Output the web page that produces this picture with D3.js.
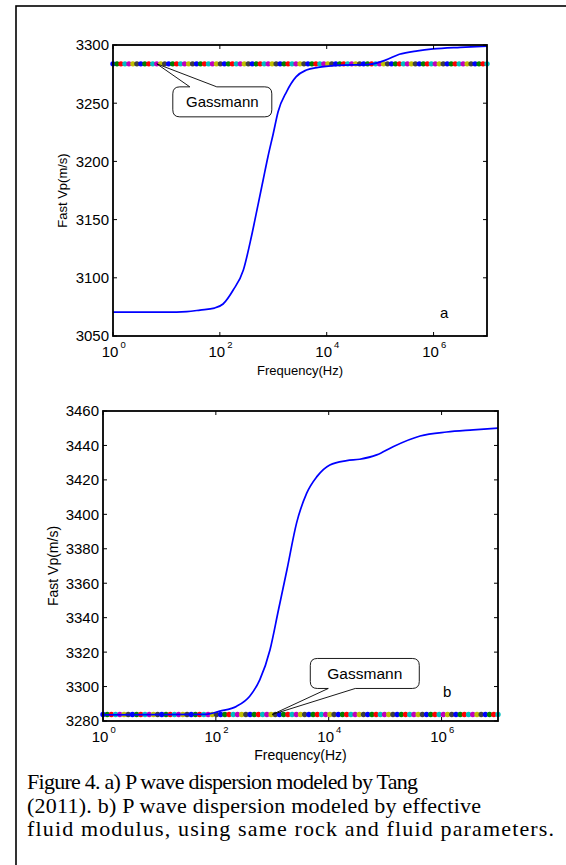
<!DOCTYPE html>
<html><head><meta charset="utf-8">
<script src="https://cdn.jsdelivr.net/npm/d3@7"></script>
<style>html,body{margin:0;padding:0;background:#fff;}svg{display:block;}</style>
</head><body>
<script>
// ---- data ----
const logFreqA = [0, 1.0, 1.38, 1.63, 1.9, 2.06, 2.25, 2.44, 2.59, 2.72, 2.81, 2.90, 3.00, 3.09, 3.25, 3.43, 3.62, 3.84, 4.2, 4.8, 5.1, 5.36, 5.7, 5.99, 6.5, 7.0];
const velA     = [3070.5, 3070.5, 3071, 3072.3, 3074, 3077.5, 3089.5, 3106.7, 3135.3, 3164, 3184, 3204, 3224, 3242.7, 3260, 3272.8, 3278.5, 3280.8, 3282.5, 3283.4, 3287, 3292, 3295, 3296.6, 3298, 3299];
const logFreqB = [0, 1.8, 2.07, 2.37, 2.60, 2.78, 2.96, 3.11, 3.26, 3.43, 3.61, 3.79, 4.02, 4.32, 4.55, 4.85, 5.14, 5.62, 6.09, 6.56, 7.0];
const velB     = [3283.5, 3283.8, 3285.7, 3288.6, 3294.4, 3304, 3321.4, 3344.6, 3367.8, 3394.9, 3412.3, 3421.9, 3428.7, 3431.2, 3432, 3434.5, 3439.3, 3445.5, 3447.8, 3449, 3450];
const gassmannVel = 3283.8;
const gassmannMarkerCount = 95;
const xTickExps = [0, 2, 4, 6];
const yTicksA = [3050, 3100, 3150, 3200, 3250, 3300];
const yTicksB = [3280, 3300, 3320, 3340, 3360, 3380, 3400, 3420, 3440, 3460];
const markerColors = ["#0000ff", "#008000", "#ff0000", "#00bfbf", "#bf00bf", "#bfbf00", "#404040"];
const captionLines = [
  "Figure 4. a) P wave dispersion modeled by Tang",
  "(2011). b) P wave dispersion modeled by effective",
  "fluid modulus, using same rock and fluid parameters."
];
const captionWidths = [391, 454, 527];

const W = 566, H = 865;
const svg = d3.select("body").append("svg").attr("width", W).attr("height", H);
const SANS = "'Liberation Sans', Arial, sans-serif";

// outer frame
svg.append("rect").attr("x", 16).attr("y", 6).attr("width", W + 10).attr("height", H + 10)
  .attr("fill", "none").attr("stroke", "#000").attr("stroke-width", 1.6);

function panel(cfg) {
  const g = svg.append("g");
  const x = d3.scaleLog().domain([1, 1e7]).range([cfg.left, cfg.right]);
  const y = d3.scaleLinear().domain(cfg.yDomain).range([cfg.bottom, cfg.top]);
  const tl = 4;

  // Gassmann markers
  const gl = d3.range(gassmannMarkerCount).map(i => Math.pow(10, 7 * i / (gassmannMarkerCount - 1)));
  g.append("g").selectAll("circle").data(gl).join("circle")
    .attr("cx", d => x(d)).attr("cy", y(gassmannVel)).attr("r", 2.7)
    .attr("fill", (d, i) => markerColors[i % markerColors.length]);

  // curve
  const line = d3.line().x(d => x(Math.pow(10, d[0]))).y(d => y(d[1])).curve(d3.curveMonotoneX);
  g.append("path").datum(cfg.lf.map((f, i) => [f, cfg.v[i]]))
    .attr("d", line).attr("fill", "none").attr("stroke", "#0000ff").attr("stroke-width", 1.7);

  // box
  g.append("rect").attr("x", cfg.left).attr("y", cfg.top)
    .attr("width", cfg.right - cfg.left).attr("height", cfg.bottom - cfg.top)
    .attr("fill", "none").attr("stroke", "#000").attr("stroke-width", 1.8);

  // x ticks
  xTickExps.forEach(e => {
    const px = x(Math.pow(10, e));
    g.append("line").attr("x1", px).attr("x2", px).attr("y1", cfg.bottom).attr("y2", cfg.bottom - tl).attr("stroke", "#000");
    g.append("line").attr("x1", px).attr("x2", px).attr("y1", cfg.top).attr("y2", cfg.top + tl).attr("stroke", "#000");
    g.append("text").attr("x", px - 3).attr("y", cfg.bottom + 21)
      .attr("text-anchor", "middle").attr("font-family", SANS).attr("font-size", cfg.tickFs).text("10");
    g.append("text").attr("x", px + cfg.tickFs * 0.56 - 1).attr("y", cfg.bottom + 12)
      .attr("text-anchor", "start").attr("font-family", SANS).attr("font-size", 9.5).text(e);
  });
  // y ticks
  cfg.yTicks.forEach(v => {
    const py = y(v);
    g.append("line").attr("x1", cfg.left).attr("x2", cfg.left + tl).attr("y1", py).attr("y2", py).attr("stroke", "#000");
    g.append("line").attr("x1", cfg.right).attr("x2", cfg.right - tl).attr("y1", py).attr("y2", py).attr("stroke", "#000");
    g.append("text").attr("x", cfg.left - 4).attr("y", py).attr("dy", "0.36em")
      .attr("text-anchor", "end").attr("font-family", SANS).attr("font-size", cfg.tickFs).text(v);
  });
  // axis labels
  g.append("text").attr("x", (cfg.left + cfg.right) / 2).attr("y", cfg.bottom + 39)
    .attr("text-anchor", "middle").attr("font-family", SANS).attr("font-size", cfg.labFs).text("Frequency(Hz)");
  g.append("text").attr("transform", `translate(${cfg.ylabX},${(cfg.top + cfg.bottom) / 2}) rotate(-90)`)
    .attr("text-anchor", "middle").attr("font-family", SANS).attr("font-size", cfg.labFs).text("Fast Vp(m/s)");
  // panel letter
  g.append("text").attr("x", x(Math.pow(10, cfg.letterPos[0]))).attr("y", y(cfg.letterPos[1])).attr("dy", "0.36em")
    .attr("text-anchor", "middle").attr("font-family", SANS).attr("font-size", 15).text(cfg.letter);

  // callout
  const ax = x(Math.pow(10, cfg.callout.logf)), ay = y(gassmannVel);
  const c = cfg.callout;
  const x0 = ax + c.box[0], x1 = ax + c.box[1], y0 = ay + c.box[2], y1 = ay + c.box[3];
  const p0 = ax + c.base[0], p1 = ax + c.base[1];
  const r = 7;
  let d = `M${x0 + r},${y0}`;
  if (c.side === "top") d += `L${p0},${y0}L${ax},${ay}L${p1},${y0}`;
  d += `L${x1 - r},${y0}Q${x1},${y0} ${x1},${y0 + r}L${x1},${y1 - r}Q${x1},${y1} ${x1 - r},${y1}`;
  if (c.side === "bottom") d += `L${p1},${y1}L${ax},${ay}L${p0},${y1}`;
  d += `L${x0 + r},${y1}Q${x0},${y1} ${x0},${y1 - r}L${x0},${y0 + r}Q${x0},${y0} ${x0 + r},${y0}Z`;
  g.append("path").attr("d", d).attr("fill", "#fff").attr("stroke", "#000").attr("stroke-width", 0.9);
  g.append("text").attr("x", (x0 + x1) / 2).attr("y", (y0 + y1) / 2).attr("dy", "0.36em")
    .attr("text-anchor", "middle").attr("font-family", SANS).attr("font-size", c.fs).text("Gassmann");
}

panel({left: 113, right: 487, top: 45, bottom: 336, yDomain: [3050, 3300], yTicks: yTicksA,
  lf: logFreqA, v: velA, tickFs: 15, labFs: 13, ylabX: 67, letter: "a", letterPos: [6.2, 3070],
  callout: {logf: 0.82, side: "top", box: [16, 115, 23, 53], base: [33, 60], fs: 15}});
panel({left: 103, right: 498, top: 411, bottom: 721, yDomain: [3280, 3460], yTicks: yTicksB,
  lf: logFreqB, v: velB, tickFs: 15, labFs: 14, ylabX: 58, letter: "b", letterPos: [6.1, 3297],
  callout: {logf: 3.0, side: "bottom", box: [38, 147, -56, -26], base: [56, 83], fs: 15.5}});

// caption
svg.append("g").selectAll("text").data(captionLines).join("text")
  .attr("x", 27).attr("y", (d, i) => 789 + i * 23.5)
  .attr("font-family", "'Liberation Serif', 'Times New Roman', serif").attr("font-size", 22)
  .attr("textLength", (d, i) => captionWidths[i]).attr("lengthAdjust", "spacing")
  .text(d => d);
</script>
</body></html>
